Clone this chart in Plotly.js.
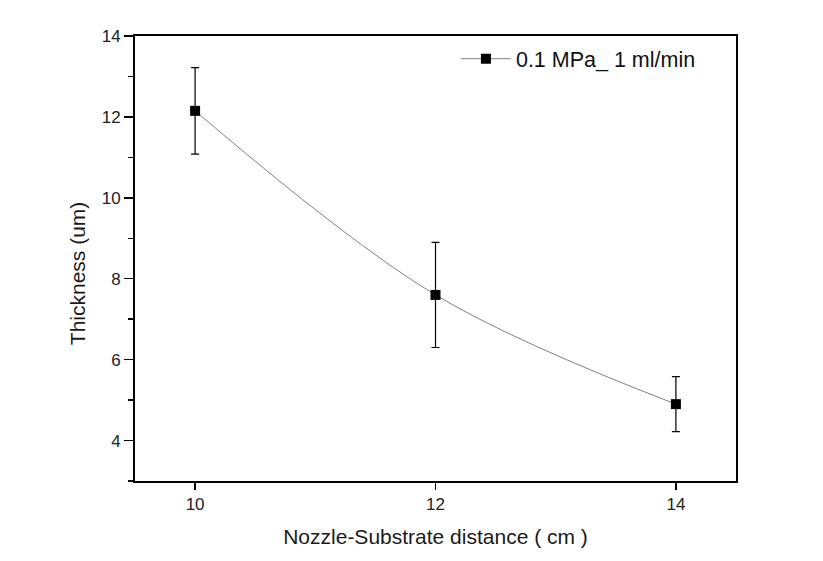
<!DOCTYPE html>
<html>
<head>
<meta charset="utf-8">
<script src="https://cdn.plot.ly/plotly-3.0.1.min.js"></script>
<style>html,body{margin:0;padding:0;background:#fff;}#chart{width:823px;height:561px;}</style>
</head>
<body>
<div id="chart"></div>
<script>
const distances = [10, 12, 14];
const thickness = [12.15, 7.6, 4.9];
const errors = [1.07, 1.3, 0.68];
const seriesName = "0.1 MPa_ 1 ml/min";
const yTicks = [4, 6, 8, 10, 12, 14];
const xTicks = [10, 12, 14];
const xTitle = 'Nozzle-Substrate distance ( cm )';
const yTitle = 'Thickness (um)';

const trace = {
  x: distances, y: thickness, name: seriesName,
  type: 'scatter', mode: 'lines+markers',
  line: {shape: 'spline', color: '#808080', width: 1},
  marker: {symbol: 'square', size: 10, color: '#000'},
  error_y: {type: 'data', array: errors, visible: true, color: '#000', thickness: 1.2, width: 4}
};
const fam = 'Liberation Sans, Arial, sans-serif';
const tickFont = {family: fam, size: 17, color: '#222'};
const layout = {
  width: 823, height: 561,
  margin: {l: 135, r: 87, t: 36, b: 80},
  paper_bgcolor: '#fff', plot_bgcolor: '#fff',
  font: {family: fam, size: 17, color: '#1a1a1a'},
  showlegend: true,
  legend: {x: 0.534, xanchor: 'left', y: 0.995, yanchor: 'top', itemwidth: 50, bgcolor: 'rgba(0,0,0,0)', font: {size: 21.5, family: fam, color: '#111'}},
  xaxis: {
    range: [9.5, 14.5], tickmode: 'array', tickvals: xTicks, ticktext: xTicks.map(String),
    ticks: 'outside', ticklen: 7, tickwidth: 1.5, tickcolor: '#000',
    showline: true, linecolor: '#000', linewidth: 2, mirror: true,
    showgrid: false, zeroline: false, tickfont: tickFont,
    title: {text: xTitle, font: {size: 21, family: fam, color: '#1a1a1a'}, standoff: 16}
  },
  yaxis: {
    range: [3, 14], tickmode: 'array', tickvals: yTicks, ticktext: yTicks.map(String),
    ticks: 'outside', ticklen: 9, tickwidth: 1.5, tickcolor: '#000',
    minor: {dtick: 1, tick0: 3, ticks: 'outside', ticklen: 5, tickwidth: 1.5, tickcolor: '#000'},
    showline: true, linecolor: '#000', linewidth: 2, mirror: true,
    showgrid: false, zeroline: false, tickfont: tickFont
  },
  annotations: [{
    text: yTitle, textangle: -90, showarrow: false,
    xref: 'paper', yref: 'paper', x: 0, y: 0.467, xanchor: 'center', yanchor: 'middle',
    xshift: -58, font: {size: 21, family: fam, color: '#1a1a1a'}
  }]
};
Plotly.newPlot('chart', [trace], layout, {displayModeBar: false, staticPlot: true});
</script>
</body>
</html>
